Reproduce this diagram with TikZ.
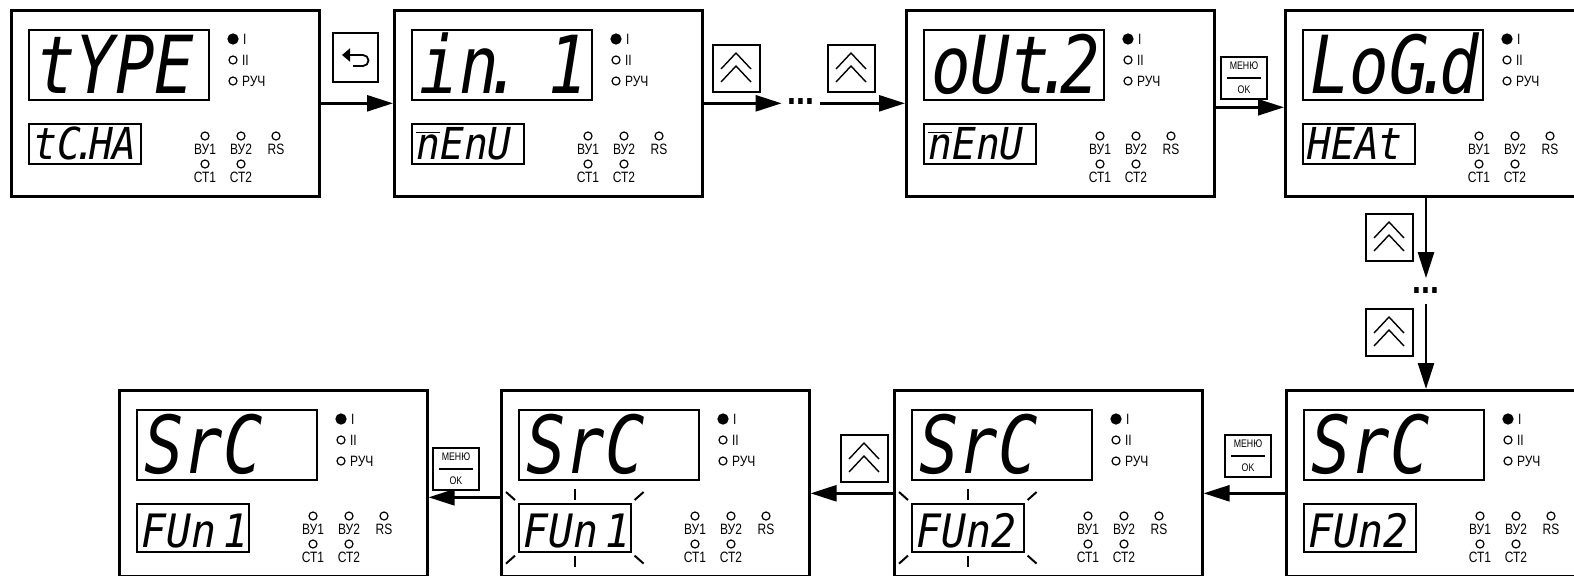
\documentclass[tikz,border=0pt]{standalone}
\usepackage{fontspec}
\usepackage{tikz}
\newfontfamily\segfont[FakeStretch=0.82]{DejaVu Sans Mono}
\newfontfamily\seglofont[FakeStretch=0.9]{DejaVu Sans Mono}
\newfontfamily\ledfont[FakeStretch=0.8]{Liberation Sans}
\newcommand{\sdot}{\kern-.18em.\kern-.18em}
\newcommand{\segm}{\(\overline{\mbox{n}}\)}
\usetikzlibrary{
  arrows.meta,
  calc,
  positioning,
}
\tikzset{
  >={Triangle[length=13pt,width=8pt]},
  panel/.style={draw,rectangle,line width=1.3pt,minimum width=154pt,minimum height=93pt,anchor=north west,inner sep=0pt},
  lcdhi/.style={draw,rectangle,line width=.8pt,minimum width=90pt,minimum height=35pt,anchor=north west,inner sep=0pt},
  lcdlo/.style={draw,rectangle,line width=.8pt,minimum width=56pt,minimum height=20pt,anchor=north west,inner sep=0pt},
  seghi/.style={inner sep=0pt,font=\segfont\itshape\fontsize{40}{40}\selectfont},
  seglo/.style={inner sep=0pt,anchor=base west,font=\seglofont\itshape\fontsize{22}{22}\selectfont},
  readl/.style={anchor=base west,at={($(#1.south west)+(8,-7)$)}},
  readr/.style={anchor=base east,at={($(#1.south east)+(-4,-7)$)}},
  led/.style={draw,circle,line width=.6pt,inner sep=0pt,minimum size=4pt},
  ledon/.style={led,fill=black,minimum size=5pt},
  ledtxt/.style={inner sep=0pt,font=\ledfont\fontsize{7.5}{7.5}\selectfont},
  flow/.style={->,line width=1.3pt},
  blinkmark/.style={line width=1pt},
  ellip/.style={inner sep=0pt,font=\ledfont\bfseries\fontsize{20}{20}\selectfont},
  keybox/.style={draw,rectangle,line width=1pt,inner sep=0pt},
  upkey/.style={keybox,minimum width=23.5pt,minimum height=23.5pt,
    path picture={
      \draw[line width=.7pt] ([shift={(-15,1)}]path picture bounding box.center) -- ++(15,-16) -- ++(15,16);
      \draw[line width=.7pt] ([shift={(-15,14)}]path picture bounding box.center) -- ++(15,-16) -- ++(15,16);
    }},
  backkey/.style={keybox,minimum width=22.5pt,minimum height=24.5pt,
    path picture={
      \draw[line width=.9pt,-{Triangle[length=4pt,width=6.5pt]}] ([shift={(-2,9)}]path picture bounding box.center) -- ++(10,0) arc[start angle=90,end angle=-90,radius=5.5] -- ++(-21,0);
    }},
  menukey/.style={keybox,minimum width=23pt,minimum height=21pt,align=center,font=\ledfont\fontsize{5.5}{6}\selectfont,
    path picture={
      \draw[line width=1pt] ([xshift=-8.5pt]path picture bounding box.center) -- ([xshift=8.5pt]path picture bounding box.center);
    }},
}

\newcommand{\devpanel}[5]{%
  \node[panel] (#1) at (#2) {};
  \node[lcdhi] (#1-hi) at ($(#1.north west)+(18,20)$) {};
  \node[lcdlo] (#1-lo) at ($(#1.north west)+(18,114)$) {};
  \node[seghi,#4=#1-hi] (#1-hitxt) {#3};
  \node[seglo] (#1-lotxt) at ($(#1-lo.south west)+(5,-5)$) {#5};
  \node[ledon] (#1-l1) at ($(#1.north west)+(223,30)$) {};
  \node[led] (#1-l2) at ($(#1.north west)+(223,51)$) {};
  \node[led] (#1-l3) at ($(#1.north west)+(223,72)$) {};
  \node[ledtxt,right=2pt of #1-l1] (#1-t1) {I};
  \node[ledtxt,right=2pt of #1-l2] (#1-t2) {II};
  \node[ledtxt,right=2pt of #1-l3] (#1-t3) {РУЧ};
  \node[led] (#1-v1) at ($(#1.north west)+(195,127)$) {};
  \node[led] (#1-v2) at ($(#1.north west)+(231,127)$) {};
  \node[led] (#1-rs) at ($(#1.north west)+(266,127)$) {};
  \node[led] (#1-c1) at ($(#1.north west)+(195,155)$) {};
  \node[led] (#1-c2) at ($(#1.north west)+(231,155)$) {};
  \node[ledtxt,below=1.5pt of #1-v1] (#1-tv1) {ВУ1};
  \node[ledtxt,below=1.5pt of #1-v2] (#1-tv2) {ВУ2};
  \node[ledtxt,below=1.5pt of #1-rs] (#1-trs) {RS};
  \node[ledtxt,below=1.5pt of #1-c1] (#1-tc1) {СТ1};
  \node[ledtxt,below=1.5pt of #1-c2] (#1-tc2) {СТ2};
}

\newcommand{\blinking}[1]{%
  \draw[blinkmark] ($(#1.north)+(0,-3)$) -- ++(0,-11);
  \draw[blinkmark] ($(#1.south)+(0,3)$) -- ++(0,11);
  \draw[blinkmark] ($(#1.north west)+(-3,-3)$) -- ++(-9,-8);
  \draw[blinkmark] ($(#1.north east)+(3,-3)$) -- ++(9,-8);
  \draw[blinkmark] ($(#1.south west)+(-3,3)$) -- ++(-9,8);
  \draw[blinkmark] ($(#1.south east)+(3,3)$) -- ++(9,8);
}

\begin{document}
\begin{tikzpicture}[x=0.5pt,y=-0.5pt,node distance=0pt]
  \useasboundingbox (0,0) rectangle (1574,575);
  \clip (0,0) rectangle (1574,575);
  \fill[white] (0,0) rectangle (1574,575);

  \devpanel{a1}{10,9}{tYPE}{readl}{tC\sdot HA}
  \devpanel{a2}{393,9}{in\sdot\ 1}{readr}{\segm EnU}
  \devpanel{a3}{905,9}{oUt\sdot 2}{readl}{\segm EnU}
  \devpanel{a4}{1284,9}{LoG\sdot d}{readl}{HEAt}

  \tikzset{lcdlo/.append style={minimum height=24pt},
    seglo/.append style={font=\seglofont\itshape\fontsize{23}{23}\selectfont}}
  \devpanel{b1}{118,389}{SrC}{readl}{FUn\,1}
  \devpanel{b2}{500,389}{SrC}{readl}{FUn\,1}
  \devpanel{b3}{893,389}{SrC}{readl}{FUn2}
  \devpanel{b4}{1285,389}{SrC}{readl}{FUn2}
  \blinking{b2-lo}
  \blinking{b3-lo}

  \node[ellip,minimum width=19pt] (dots1) at (801,102) {...};
  \node[ellip,minimum height=12.5pt] (dots2) at (1426,291) {...};

  \node[backkey] (k1) at (355,57) {};
  \node[upkey] (k2) at (736,68) {};
  \node[upkey] (k3) at (851,68) {};
  \node[menukey] (k4) at (1244,78) {МЕНЮ\\[6pt]OK};
  \node[upkey] (k5) at (1389,237) {};
  \node[upkey] (k6) at (1389,332) {};
  \node[menukey] (k7) at (1248,456) {МЕНЮ\\[6pt]OK};
  \node[upkey] (k8) at (864,458) {};
  \node[menukey] (k9) at (456,469) {МЕНЮ\\[6pt]OK};

  \draw[flow] (a1.east) -- (a2.west);
  \draw[flow] (a2.east) -- (dots1.west |- a2.east);
  \draw[flow] (dots1.east |- a3.west) -- (a3.west);
  \draw[flow] ([yshift=-2pt]a3.east) -- ([yshift=-2pt]a4.west);
  \draw[flow] (a4.south -| dots2) -- (dots2.north);
  \draw[flow] (dots2.south) -- (b4.north -| dots2);
  \draw[flow] ([yshift=-5pt]b4.west) -- ([yshift=-5pt]b3.east);
  \draw[flow] ([yshift=-5pt]b3.west) -- ([yshift=-5pt]b2.east);
  \draw[flow] ([yshift=-7pt]b2.west) -- ([yshift=-7pt]b1.east);
\end{tikzpicture}
\end{document}
